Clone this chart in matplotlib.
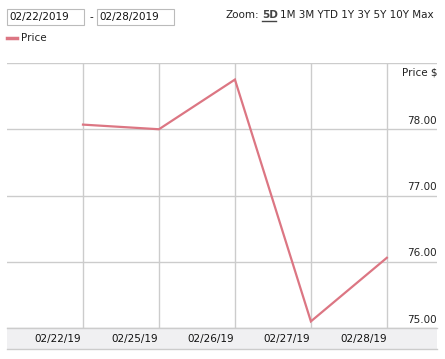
import matplotlib.pyplot as plt
from matplotlib.patches import Rectangle
from matplotlib.lines import Line2D

dates = ['02/22/19', '02/25/19', '02/26/19', '02/27/19', '02/28/19']
prices = [78.07, 78.00, 78.75, 75.10, 76.06]
y_ticks = [75, 76, 77, 78]
zoom_opts = ['1M', '3M', 'YTD', '1Y', '3Y', '5Y', '10Y', 'Max']

W, H = 445, 359
fig = plt.figure(figsize=(W / 100, H / 100), dpi=100)
plt.rcParams['font.family'] = 'DejaVu Sans'

def fx(px):
    return px / W

def fy(py):
    return 1 - py / H

line_color = '#dc7683'
grid_color = '#cccccc'

# plot area
ax = fig.add_axes([fx(7), fy(328), fx(437) - fx(7), fy(63) - fy(328)])
x = list(range(len(dates)))
ax.plot(x, prices, color=line_color, linewidth=1.6, solid_joinstyle='miter')
ax.set_xlim(-1, 4.66)
ax.set_ylim(75, 79)
for s in ax.spines.values():
    s.set_visible(False)
ax.set_xticks(x)
ax.set_xticklabels([])
ax.set_yticks(y_ticks + [79])
ax.set_yticklabels([])
ax.tick_params(length=0)
ax.grid(True, color=grid_color, linewidth=1)
ax.set_axisbelow(True)

for v in y_ticks:
    ax.text(4.66, v + 0.05, f'{v:.2f}', ha='right', va='bottom', fontsize=7.5, color='#222222')
ax.text(4.66, 78.93, 'Price $', ha='right', va='top', fontsize=7.5, color='#222222')

# x axis band
fig.patches.append(Rectangle((fx(7), fy(349)), fx(437) - fx(7), fy(328) - fy(349),
                             transform=fig.transFigure, facecolor='#f0f0f2', edgecolor='none'))
fig.lines.append(Line2D([fx(7), fx(437)], [fy(349), fy(349)], transform=fig.transFigure,
                        color=grid_color, linewidth=1))
fig.lines.append(Line2D([fx(7), fx(437)], [fy(328), fy(328)], transform=fig.transFigure,
                        color=grid_color, linewidth=1))
for i, d in enumerate(dates):
    xp = 83 + i * 76.3 - 25
    fig.text(fx(xp), fy(339), d, ha='center', va='center', fontsize=7.5, color='#111111')

# date inputs
for x0, label in [(7, '02/22/2019'), (97, '02/28/2019')]:
    fig.patches.append(Rectangle((fx(x0), fy(25)), fx(77), fy(9) - fy(25),
                                 transform=fig.transFigure, facecolor='white',
                                 edgecolor='#bbbbbb', linewidth=0.8))
    fig.text(fx(x0 + 2), fy(17), label, ha='left', va='center', fontsize=7.5, color='#111111')
fig.text(fx(91), fy(17), '-', ha='center', va='center', fontsize=7.5, color='#111111')

# zoom controls
fig.text(fx(225), fy(15), 'Zoom:', ha='left', va='center', fontsize=7.5, color='#222222')
fig.text(fx(262), fy(15), '5D', ha='left', va='center', fontsize=7.5, fontweight='bold',
         color='#444444')
fig.lines.append(Line2D([fx(262), fx(276)], [fy(21), fy(21)], transform=fig.transFigure,
                        color='#444444', linewidth=1))
fig.text(fx(280), fy(15), ' '.join(zoom_opts), ha='left', va='center', fontsize=7.5,
         color='#222222')

# legend
fig.lines.append(Line2D([fx(7), fx(17)], [fy(38), fy(38)], transform=fig.transFigure,
                        color=line_color, linewidth=2.5))
fig.text(fx(21), fy(38), 'Price', ha='left', va='center', fontsize=7.5, color='#222222')

fig.savefig('out.png', dpi=100)
